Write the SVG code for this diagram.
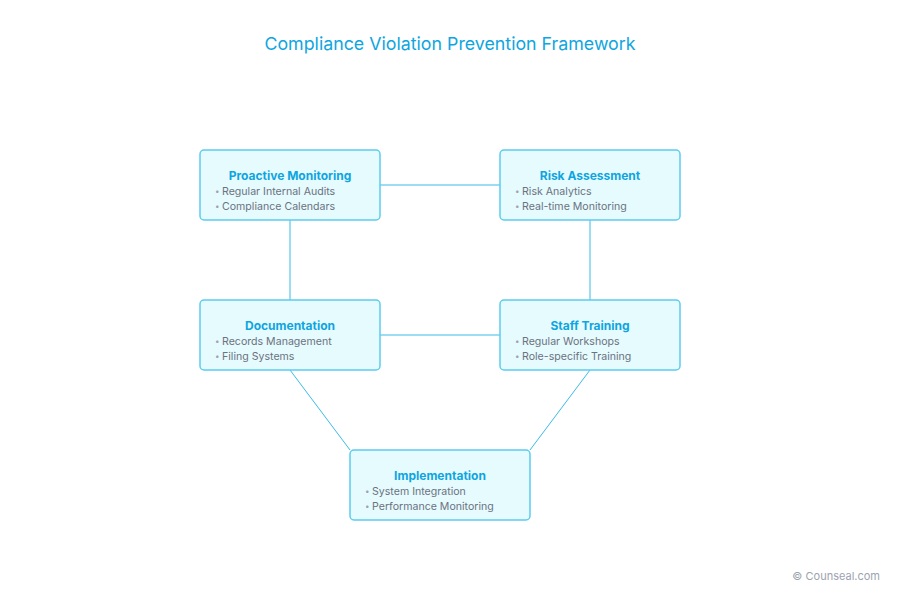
<svg xmlns="http://www.w3.org/2000/svg" width="900" height="600" viewBox="0 0 900 600">
<style>
.box{fill:#e6fbfe;stroke:#5cccf0;stroke-width:1.5}
.t{font-family:Inter,"Liberation Sans",sans-serif;font-size:12px;font-weight:bold;fill:#0ea5e0;text-anchor:middle}
.b{font-family:Inter,"Liberation Sans",sans-serif;font-size:10.6px;fill:#6b7280}
.d{font-family:Inter,"Liberation Sans",sans-serif;font-size:8px;fill:#9ca3af}
.c{stroke:#3bbbe8;stroke-width:1;fill:none}
</style>
<rect width="900" height="600" fill="#ffffff"/>
<text x="450" y="50" text-anchor="middle" font-family="Inter,'Liberation Sans',sans-serif" font-size="17.8" fill="#0ea5e0">Compliance Violation Prevention Framework</text>
<g id="connectors">
<line class="c" x1="380" y1="185" x2="500" y2="185"/>
<line class="c" x1="290" y1="220" x2="290" y2="300"/>
<line class="c" x1="590" y1="220" x2="590" y2="300"/>
<line class="c" x1="380" y1="335" x2="500" y2="335"/>
<line class="c" x1="290" y1="370" x2="350" y2="450"/>
<line class="c" x1="590" y1="370" x2="530" y2="450"/>
</g>
<g id="proactive">
<rect class="box" x="200" y="150" width="180" height="70" rx="4"/>
<text class="t" x="290" y="180">Proactive Monitoring</text>
<text class="d" x="215" y="194">•</text><text class="b" x="222" y="195">Regular Internal Audits</text>
<text class="d" x="215" y="209">•</text><text class="b" x="222" y="210">Compliance Calendars</text>
</g>
<g id="risk">
<rect class="box" x="500" y="150" width="180" height="70" rx="4"/>
<text class="t" x="590" y="180">Risk Assessment</text>
<text class="d" x="515" y="194">•</text><text class="b" x="522" y="195">Risk Analytics</text>
<text class="d" x="515" y="209">•</text><text class="b" x="522" y="210">Real-time Monitoring</text>
</g>
<g id="documentation">
<rect class="box" x="200" y="300" width="180" height="70" rx="4"/>
<text class="t" x="290" y="330">Documentation</text>
<text class="d" x="215" y="344">•</text><text class="b" x="222" y="345">Records Management</text>
<text class="d" x="215" y="359">•</text><text class="b" x="222" y="360">Filing Systems</text>
</g>
<g id="training">
<rect class="box" x="500" y="300" width="180" height="70" rx="4"/>
<text class="t" x="590" y="330">Staff Training</text>
<text class="d" x="515" y="344">•</text><text class="b" x="522" y="345">Regular Workshops</text>
<text class="d" x="515" y="359">•</text><text class="b" x="522" y="360">Role-specific Training</text>
</g>
<g id="implementation">
<rect class="box" x="350" y="450" width="180" height="70" rx="4"/>
<text class="t" x="440" y="480">Implementation</text>
<text class="d" x="365" y="494">•</text><text class="b" x="372" y="495">System Integration</text>
<text class="d" x="365" y="509">•</text><text class="b" x="372" y="510">Performance Monitoring</text>
</g>
<text x="880" y="580" text-anchor="end" font-family="Inter,'Liberation Sans',sans-serif" font-size="11" fill="#9ca3af">© Counseal.com</text>
</svg>
